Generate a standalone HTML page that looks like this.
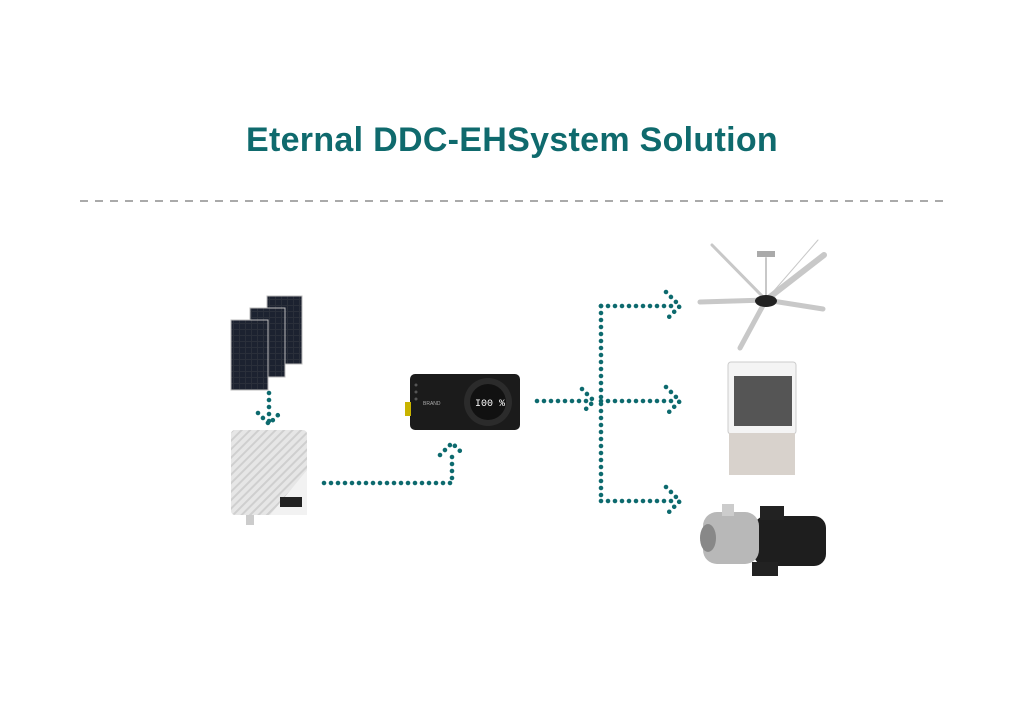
<!DOCTYPE html>
<html><head><meta charset="utf-8"><style>
html,body{margin:0;padding:0;background:#fff;}
body{width:1024px;height:707px;overflow:hidden;position:relative;}
h1{position:absolute;left:0;top:121px;width:1024px;text-align:center;margin:0;font:bold 34px "Liberation Sans",sans-serif;color:#0f6a6d;letter-spacing:0.3px;}
</style></head><body>
<h1>Eternal DDC-EHSystem Solution</h1>
<svg width="1024" height="707" style="position:absolute;left:0;top:0">
<defs>
<pattern id="str" width="6" height="6" patternUnits="userSpaceOnUse" patternTransform="rotate(45)">
<rect width="6" height="6" fill="#e6e6e6"/><rect width="2" height="6" fill="#cfcfcf"/></pattern>
<pattern id="cell" width="6" height="6" patternUnits="userSpaceOnUse">
<rect width="6" height="6" fill="#2a2f3a"/><rect width="5" height="5" fill="#1c2230"/></pattern>
</defs>
<line x1="80" y1="201" x2="945" y2="201" stroke="#aaa" stroke-width="2" stroke-dasharray="8,7"/>
<rect x="267" y="296" width="35" height="68" fill="url(#cell)" stroke="#bbb"/>
<rect x="250" y="308" width="35" height="69" fill="url(#cell)" stroke="#bbb"/>
<rect x="231" y="320" width="37" height="70" fill="url(#cell)" stroke="#bbb"/>
<rect x="231" y="430" width="76" height="85" rx="4" fill="url(#str)"/>
<polygon points="307,470 307,515 270,515" fill="#f2f2f2"/>
<rect x="280" y="497" width="22" height="10" fill="#222"/>
<rect x="246" y="515" width="8" height="10" fill="#ccc"/>
<rect x="410" y="374" width="110" height="56" rx="5" fill="#1b1b1b"/>
<rect x="405" y="402" width="6" height="14" fill="#c9b400"/>
<circle cx="488" cy="402" r="24" fill="#2b2b2b"/><circle cx="488" cy="402" r="18" fill="#111"/>
<text x="475" y="406" fill="#fff" font-family="Liberation Mono,monospace" font-size="10">I00 %</text>
<text x="423" y="405" fill="#aaa" font-family="Liberation Sans,sans-serif" font-size="5">BRAND</text>
<circle cx="416" cy="385" r="1.5" fill="#555"/><circle cx="416" cy="392" r="1.5" fill="#555"/><circle cx="416" cy="399" r="1.5" fill="#555"/>
<g stroke="#c8c8c8" stroke-linecap="round">
<line x1="766" y1="300" x2="824" y2="255" stroke-width="6"/>
<line x1="766" y1="300" x2="823" y2="309" stroke-width="5"/>
<line x1="766" y1="300" x2="740" y2="348" stroke-width="5"/>
<line x1="766" y1="300" x2="700" y2="302" stroke-width="5"/>
<line x1="766" y1="300" x2="712" y2="245" stroke-width="3"/>
<line x1="766" y1="300" x2="818" y2="240" stroke-width="1"/>
<line x1="766" y1="258" x2="766" y2="300" stroke-width="2"/>
</g>
<rect x="757" y="251" width="18" height="6" fill="#aaa"/>
<ellipse cx="766" cy="301" rx="11" ry="6" fill="#222"/>
<rect x="728" y="362" width="68" height="72" rx="3" fill="#f4f4f4" stroke="#ccc"/>
<rect x="734" y="376" width="58" height="50" fill="#555"/>
<rect x="729" y="433" width="66" height="42" fill="#d8d2cc"/>
<rect x="754" y="516" width="72" height="50" rx="12" fill="#1e1e1e"/>
<rect x="760" y="506" width="24" height="14" fill="#222"/>
<rect x="703" y="512" width="56" height="52" rx="14" fill="#b8b8b8"/>
<ellipse cx="708" cy="538" rx="8" ry="14" fill="#888"/>
<rect x="722" y="504" width="12" height="12" fill="#ccc"/>
<rect x="752" y="562" width="26" height="14" fill="#222"/>
<g fill="none" stroke="#0d6a6e" stroke-width="4.6" stroke-linecap="round" stroke-dasharray="0,7">
<path d="M269 393 V422"/>
<path d="M258 413 L269 424 L280 413"/>
<path d="M324 483 H452 V450"/>
<path d="M440 455 L452 443 L464 455"/>
<path d="M537 401 H588"/>
<path d="M582 389 L594 401 L582 413"/>
<path d="M601 306 V501"/>
<path d="M601 306 H672"/>
<path d="M601 401 H672"/>
<path d="M601 501 H672"/>
<path d="M666 292 L680 306 L666 320"/>
<path d="M666 387 L680 401 L666 415"/>
<path d="M666 487 L680 501 L666 515"/>
</g>
</svg>
</body></html>
